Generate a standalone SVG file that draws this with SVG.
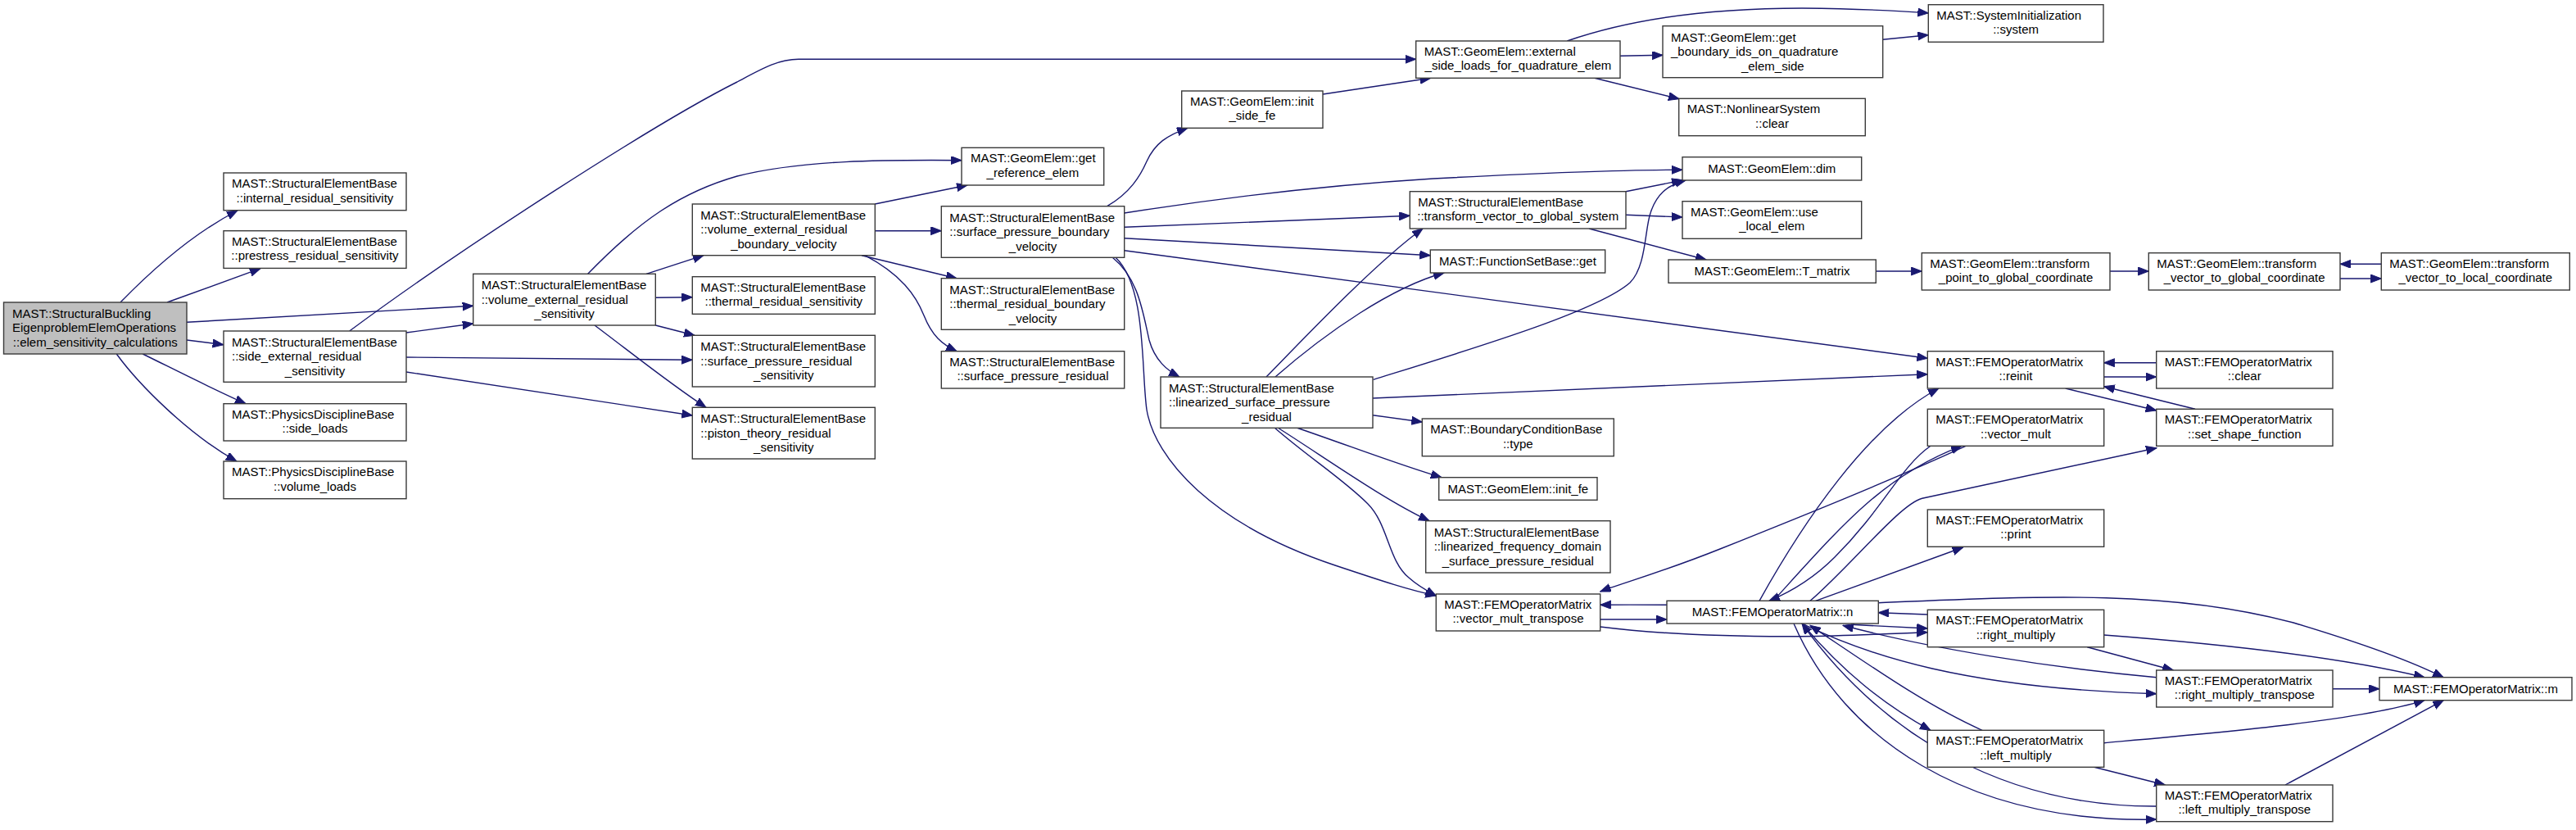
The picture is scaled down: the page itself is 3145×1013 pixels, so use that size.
<svg xmlns="http://www.w3.org/2000/svg" width="3145" height="1013" viewBox="0 0 3145 1013">
<style>
.nd rect{fill:#ffffff;stroke:#3a3a3a;stroke-width:1.4}
.nd.root rect{fill:#bfbfbf}
.nd text{font-family:"Liberation Sans",Arial,Helvetica,sans-serif;font-size:15px;fill:#000}
.c{text-anchor:middle}
#edges path{fill:none;stroke:#191970;stroke-width:1.4;marker-end:url(#ah)}
</style>
<defs>
<marker id="ah" markerUnits="userSpaceOnUse" markerWidth="14" markerHeight="11" refX="13" refY="5" orient="auto">
<path d="M0,0 L13,5 L0,10 z" fill="#191970" stroke="#191970" stroke-width="1"/>
</marker>
</defs>
<rect width="3145" height="1013" fill="#ffffff"/>
<g id="edges">
<path d="M147,369 C185,330 235,285 290,257"/>
<path d="M204,369 L318,327.7"/>
<path d="M228,393.3 L577.7,373.3"/>
<path d="M228,415 L272.7,420.7"/>
<path d="M174.3,432 C215,452 260,475 300,492.7"/>
<path d="M142.3,432 C170,470 230,530 289,563"/>
<path d="M426.7,404 C560,305 800,150 900,100 C930,84 950,72.3 975,72.3 L1728.7,72.3"/>
<path d="M496,406 L577.7,395"/>
<path d="M496,436 L845.3,439.3"/>
<path d="M496,454 L845.3,507"/>
<path d="M717.7,334.3 C780,270 830,235 900,215 C980,195 1080,195 1174,195.7"/>
<path d="M789,334.3 L859,311.7"/>
<path d="M800.3,363.3 L845.3,362.7"/>
<path d="M800.3,397 L848,409.3"/>
<path d="M726,397 C770,430 820,470 862,497.3"/>
<path d="M1068.3,249 L1181,226"/>
<path d="M1068.3,281.7 L1149.3,281.7"/>
<path d="M1052,311.7 L1168,339.7"/>
<path d="M1056,311.7 C1100,335 1118,360 1128,385 C1138,410 1150,420 1168,428.7"/>
<path d="M1351.7,251.7 C1380,235 1392,215 1400,197 C1410,175 1425,165 1450,156.3"/>
<path d="M1372.7,260 C1500,240 1620,226 1750,218 C1900,210 2000,207.3 2054,207.3"/>
<path d="M1372.7,277.3 L1721.3,263.3"/>
<path d="M1372.7,290.7 L1746.3,311.7"/>
<path d="M1372.7,305.7 L2353.3,437.3"/>
<path d="M1358.3,314.3 C1390,340 1395,380 1403,415 C1410,440 1425,452 1440,460"/>
<path d="M1362,314.3 C1400,350 1393,450 1400,500 C1410,560 1480,640 1630,690 C1690,710 1720,720 1753.3,727"/>
<path d="M1546,460 C1590,415 1680,320 1737,279"/>
<path d="M1557,460 C1620,405 1700,350 1763,333"/>
<path d="M1676.7,463.3 C1800,425 1950,380 1990,345 C2010,325 2008,280 2015,260 C2022,238 2035,226 2058,220"/>
<path d="M1676,486 L2353.3,456.7"/>
<path d="M1676,506.7 L1736.3,515"/>
<path d="M1583,522 C1650,545 1710,568 1760,582.7"/>
<path d="M1560,522 C1620,560 1690,610 1745,635.7"/>
<path d="M1556,522 C1600,560 1640,585 1670,615 C1695,640 1695,685 1720,705 C1730,714 1740,720 1753.3,727"/>
<path d="M1985,233.7 L2054,220"/>
<path d="M1985,262.3 L2054,265"/>
<path d="M1940,279 L2083,317"/>
<path d="M1913.3,50 C2000,20 2100,10 2200,10 C2280,11 2330,14 2354.3,16"/>
<path d="M1978,68.3 L2030,67.3"/>
<path d="M1946.7,95.3 L2050,120.7"/>
<path d="M2298.7,48.3 L2354.3,42.7"/>
<path d="M1615,115 L1746.7,95.3"/>
<path d="M2290.3,331 L2346.3,331"/>
<path d="M2576,331 L2623.3,331"/>
<path d="M2857,340 L2907.3,340"/>
<path d="M2907.3,322.3 L2857,322.3"/>
<path d="M2568.7,460 L2632.7,460"/>
<path d="M2632.7,442.7 L2568.7,442.7"/>
<path d="M2521.7,474 L2632.7,501"/>
<path d="M2680,499.3 L2568.7,471.7"/>
<path d="M1953.7,756 L2035,756"/>
<path d="M2035,738.3 C2000,738 1975,738 1953.7,738.3"/>
<path d="M1953.7,765 C2050,777 2150,777 2200,776.7 C2260,776 2310,773 2353.3,771.7"/>
<path d="M2148,733.3 C2200,640 2280,520 2367,474"/>
<path d="M2400,544.3 C2300,590 2200,630 2100,670 C2030,698 1980,712 1953.7,722"/>
<path d="M2165,733.3 C2250,640 2300,580 2395,544.3"/>
<path d="M2357,544.3 C2320,570 2300,620 2240,680 C2210,710 2180,725 2160,733.3"/>
<path d="M2210,733.3 C2260,690 2320,615 2346.7,608.3 L2633,546.7"/>
<path d="M2216.7,733.3 L2396.7,668"/>
<path d="M2293.3,735.7 C2500,727 2650,720 2800,760 C2900,790 2950,810 2983,826.7"/>
<path d="M2353.3,750 L2293.3,747.7"/>
<path d="M2260,762.3 L2353.3,767"/>
<path d="M2548.3,789.7 L2653.3,818"/>
<path d="M2568.7,775 C2700,785 2850,800 2960,826.7"/>
<path d="M2632.7,826.7 C2500,815 2350,790 2250,763.3"/>
<path d="M2200,761 C2280,800 2400,840 2632.7,846.7"/>
<path d="M2848,840.7 L2905,840.7"/>
<path d="M2420,891.3 C2350,860 2280,810 2210,763.3"/>
<path d="M2200,761 C2250,820 2300,860 2357,891.3"/>
<path d="M2568.7,906.7 C2700,895 2880,880 2960,854.7"/>
<path d="M2556.7,936.3 L2643.3,958"/>
<path d="M2632.7,984 C2450,985 2300,900 2200,761"/>
<path d="M2190,761 C2250,900 2400,1005 2632.7,1000"/>
<path d="M2790,958 L2983.3,854.7"/>
</g>
<g id="n_root" class="nd root"><rect x="4.5" y="369" width="223.5" height="63"/><text x="15" y="387.8">MAST::StructuralBuckling</text><text x="15" y="405.3">EigenproblemElemOperations</text><text x="116.3" y="422.8" class="c">::elem_sensitivity_calculations</text></g>
<g id="n_internal" class="nd"><rect x="273" y="211" width="223" height="45.7"/><text x="283" y="229.1">MAST::StructuralElementBase</text><text x="384.5" y="246.6" class="c">::internal_residual_sensitivity</text></g>
<g id="n_prestress" class="nd"><rect x="273" y="281.7" width="223" height="45.7"/><text x="283" y="299.8">MAST::StructuralElementBase</text><text x="384.5" y="317.3" class="c">::prestress_residual_sensitivity</text></g>
<g id="n_side_ext" class="nd"><rect x="273" y="404" width="223" height="62.3"/><text x="283" y="422.6">MAST::StructuralElementBase</text><text x="283" y="440.1">::side_external_residual</text><text x="384.5" y="457.6" class="c">_sensitivity</text></g>
<g id="n_side_loads" class="nd"><rect x="273" y="492.7" width="223" height="45.3"/><text x="283" y="510.6">MAST::PhysicsDisciplineBase</text><text x="384.5" y="528.1" class="c">::side_loads</text></g>
<g id="n_volume_loads" class="nd"><rect x="273" y="563" width="223" height="45.7"/><text x="283" y="581.1">MAST::PhysicsDisciplineBase</text><text x="384.5" y="598.6" class="c">::volume_loads</text></g>
<g id="n_vol_ext_sens" class="nd"><rect x="577.7" y="334.3" width="222.6" height="62.7"/><text x="587.7" y="353.1">MAST::StructuralElementBase</text><text x="587.7" y="370.6">::volume_external_residual</text><text x="689" y="388.1" class="c">_sensitivity</text></g>
<g id="n_vol_ext_bv" class="nd"><rect x="845.3" y="249" width="223" height="62.7"/><text x="855.3" y="267.8">MAST::StructuralElementBase</text><text x="855.3" y="285.3">::volume_external_residual</text><text x="956.8" y="302.8" class="c">_boundary_velocity</text></g>
<g id="n_thermal_sens" class="nd"><rect x="845.3" y="337.7" width="223" height="45.6"/><text x="855.3" y="355.7">MAST::StructuralElementBase</text><text x="956.8" y="373.2" class="c">::thermal_residual_sensitivity</text></g>
<g id="n_sp_sens" class="nd"><rect x="845.3" y="409.3" width="223" height="62.7"/><text x="855.3" y="428.1">MAST::StructuralElementBase</text><text x="855.3" y="445.6">::surface_pressure_residual</text><text x="956.8" y="463.1" class="c">_sensitivity</text></g>
<g id="n_piston" class="nd"><rect x="845.3" y="497.3" width="223" height="62.7"/><text x="855.3" y="516.1">MAST::StructuralElementBase</text><text x="855.3" y="533.6">::piston_theory_residual</text><text x="956.8" y="551.1" class="c">_sensitivity</text></g>
<g id="n_get_ref" class="nd"><rect x="1174" y="180.3" width="173.7" height="45.7"/><text x="1185" y="198.4">MAST::GeomElem::get</text><text x="1260.9" y="215.9" class="c">_reference_elem</text></g>
<g id="n_spbv" class="nd"><rect x="1149.3" y="251.7" width="223.4" height="62.6"/><text x="1159.3" y="270.5">MAST::StructuralElementBase</text><text x="1159.3" y="288">::surface_pressure_boundary</text><text x="1261" y="305.5" class="c">_velocity</text></g>
<g id="n_thermal_bv" class="nd"><rect x="1149.3" y="339.7" width="223.4" height="62.6"/><text x="1159.3" y="358.5">MAST::StructuralElementBase</text><text x="1159.3" y="376">::thermal_residual_boundary</text><text x="1261" y="393.5" class="c">_velocity</text></g>
<g id="n_sp_res" class="nd"><rect x="1149.3" y="428.7" width="223.4" height="45.3"/><text x="1159.3" y="446.6">MAST::StructuralElementBase</text><text x="1261" y="464.1" class="c">::surface_pressure_residual</text></g>
<g id="n_init_side_fe" class="nd"><rect x="1442.7" y="111" width="172.3" height="45.3"/><text x="1453" y="128.9">MAST::GeomElem::init</text><text x="1528.9" y="146.4" class="c">_side_fe</text></g>
<g id="n_lin_sp" class="nd"><rect x="1417" y="460" width="259" height="62.3"/><text x="1427" y="478.6">MAST::StructuralElementBase</text><text x="1427" y="496.1">::linearized_surface_pressure</text><text x="1546.5" y="513.6" class="c">_residual</text></g>
<g id="n_ext_side_loads" class="nd"><rect x="1728.7" y="50" width="249.3" height="45.3"/><text x="1738.7" y="67.9">MAST::GeomElem::external</text><text x="1853.4" y="85.4" class="c">_side_loads_for_quadrature_elem</text></g>
<g id="n_tv_global_sys" class="nd"><rect x="1721.3" y="233.7" width="263.7" height="45.3"/><text x="1731.3" y="251.6">MAST::StructuralElementBase</text><text x="1853.2" y="269.1" class="c">::transform_vector_to_global_system</text></g>
<g id="n_fsb_get" class="nd"><rect x="1746.3" y="305" width="213.4" height="28"/><text x="1853" y="324" class="c">MAST::FunctionSetBase::get</text></g>
<g id="n_bc_type" class="nd"><rect x="1736.3" y="511" width="234" height="45.7"/><text x="1746.3" y="529.1">MAST::BoundaryConditionBase</text><text x="1853.3" y="546.6" class="c">::type</text></g>
<g id="n_init_fe" class="nd"><rect x="1756.7" y="582.7" width="193.3" height="27.6"/><text x="1853.3" y="601.5" class="c">MAST::GeomElem::init_fe</text></g>
<g id="n_lin_freq" class="nd"><rect x="1740.7" y="635.7" width="225.3" height="63.3"/><text x="1750.7" y="654.8">MAST::StructuralElementBase</text><text x="1750.7" y="672.3">::linearized_frequency_domain</text><text x="1853.3" y="689.8" class="c">_surface_pressure_residual</text></g>
<g id="n_vmt" class="nd"><rect x="1753.3" y="725" width="200.4" height="45"/><text x="1763.3" y="742.8">MAST::FEMOperatorMatrix</text><text x="1853.5" y="760.3" class="c">::vector_mult_transpose</text></g>
<g id="n_boundary_ids" class="nd"><rect x="2030" y="31.7" width="268.7" height="63"/><text x="2040" y="50.5">MAST::GeomElem::get</text><text x="2040" y="68">_boundary_ids_on_quadrature</text><text x="2164.3" y="85.5" class="c">_elem_side</text></g>
<g id="n_nl_clear" class="nd"><rect x="2049.7" y="120.3" width="227.6" height="45.4"/><text x="2059.7" y="138.3">MAST::NonlinearSystem</text><text x="2163.5" y="155.8" class="c">::clear</text></g>
<g id="n_dim" class="nd"><rect x="2054" y="191.7" width="218.7" height="28.3"/><text x="2163.3" y="210.8" class="c">MAST::GeomElem::dim</text></g>
<g id="n_use_local" class="nd"><rect x="2054" y="245.7" width="218.7" height="45.6"/><text x="2064" y="263.7">MAST::GeomElem::use</text><text x="2163.3" y="281.2" class="c">_local_elem</text></g>
<g id="n_T_matrix" class="nd"><rect x="2037" y="317" width="253.3" height="28.3"/><text x="2163.6" y="336.1" class="c">MAST::GeomElem::T_matrix</text></g>
<g id="n_n" class="nd"><rect x="2035" y="733.3" width="258.3" height="27.7"/><text x="2164.1" y="752.1" class="c">MAST::FEMOperatorMatrix::n</text></g>
<g id="n_sys" class="nd"><rect x="2354.3" y="5.7" width="213.7" height="45.6"/><text x="2364.3" y="23.7">MAST::SystemInitialization</text><text x="2461.1" y="41.2" class="c">::system</text></g>
<g id="n_tp_global" class="nd"><rect x="2346.3" y="308.7" width="229.7" height="45.3"/><text x="2356.3" y="326.6">MAST::GeomElem::transform</text><text x="2461.1" y="344.1" class="c">_point_to_global_coordinate</text></g>
<g id="n_reinit" class="nd"><rect x="2353.3" y="428.7" width="215.4" height="45.3"/><text x="2363.3" y="446.6">MAST::FEMOperatorMatrix</text><text x="2461" y="464.1" class="c">::reinit</text></g>
<g id="n_vector_mult" class="nd"><rect x="2353.3" y="499.3" width="215.4" height="45"/><text x="2363.3" y="517.1">MAST::FEMOperatorMatrix</text><text x="2461" y="534.6" class="c">::vector_mult</text></g>
<g id="n_print" class="nd"><rect x="2353.3" y="622" width="215.4" height="45.3"/><text x="2363.3" y="639.9">MAST::FEMOperatorMatrix</text><text x="2461" y="657.4" class="c">::print</text></g>
<g id="n_right_mult" class="nd"><rect x="2353.3" y="744.3" width="215.4" height="45.4"/><text x="2363.3" y="762.3">MAST::FEMOperatorMatrix</text><text x="2461" y="779.8" class="c">::right_multiply</text></g>
<g id="n_left_mult" class="nd"><rect x="2353.3" y="891.3" width="215.4" height="45"/><text x="2363.3" y="909.1">MAST::FEMOperatorMatrix</text><text x="2461" y="926.6" class="c">::left_multiply</text></g>
<g id="n_tvgc" class="nd"><rect x="2623.3" y="308.7" width="233.7" height="45.3"/><text x="2633.3" y="326.6">MAST::GeomElem::transform</text><text x="2740.2" y="344.1" class="c">_vector_to_global_coordinate</text></g>
<g id="n_fem_clear" class="nd"><rect x="2632.7" y="428.7" width="215.3" height="45.3"/><text x="2642.7" y="446.6">MAST::FEMOperatorMatrix</text><text x="2740.3" y="464.1" class="c">::clear</text></g>
<g id="n_set_shape" class="nd"><rect x="2632.7" y="499.3" width="215.3" height="45"/><text x="2642.7" y="517.1">MAST::FEMOperatorMatrix</text><text x="2740.3" y="534.6" class="c">::set_shape_function</text></g>
<g id="n_rmt" class="nd"><rect x="2632.7" y="818" width="215.3" height="45"/><text x="2642.7" y="835.8">MAST::FEMOperatorMatrix</text><text x="2740.3" y="853.3" class="c">::right_multiply_transpose</text></g>
<g id="n_lmt" class="nd"><rect x="2632.7" y="958" width="215.3" height="44.7"/><text x="2642.7" y="975.6">MAST::FEMOperatorMatrix</text><text x="2740.3" y="993.1" class="c">::left_multiply_transpose</text></g>
<g id="n_tv_local" class="nd"><rect x="2907.3" y="308.7" width="230" height="45.3"/><text x="2917.3" y="326.6">MAST::GeomElem::transform</text><text x="3022.3" y="344.1" class="c">_vector_to_local_coordinate</text></g>
<g id="n_m" class="nd"><rect x="2905" y="826.7" width="235" height="28"/><text x="3022.5" y="845.7" class="c">MAST::FEMOperatorMatrix::m</text></g>
</svg>
